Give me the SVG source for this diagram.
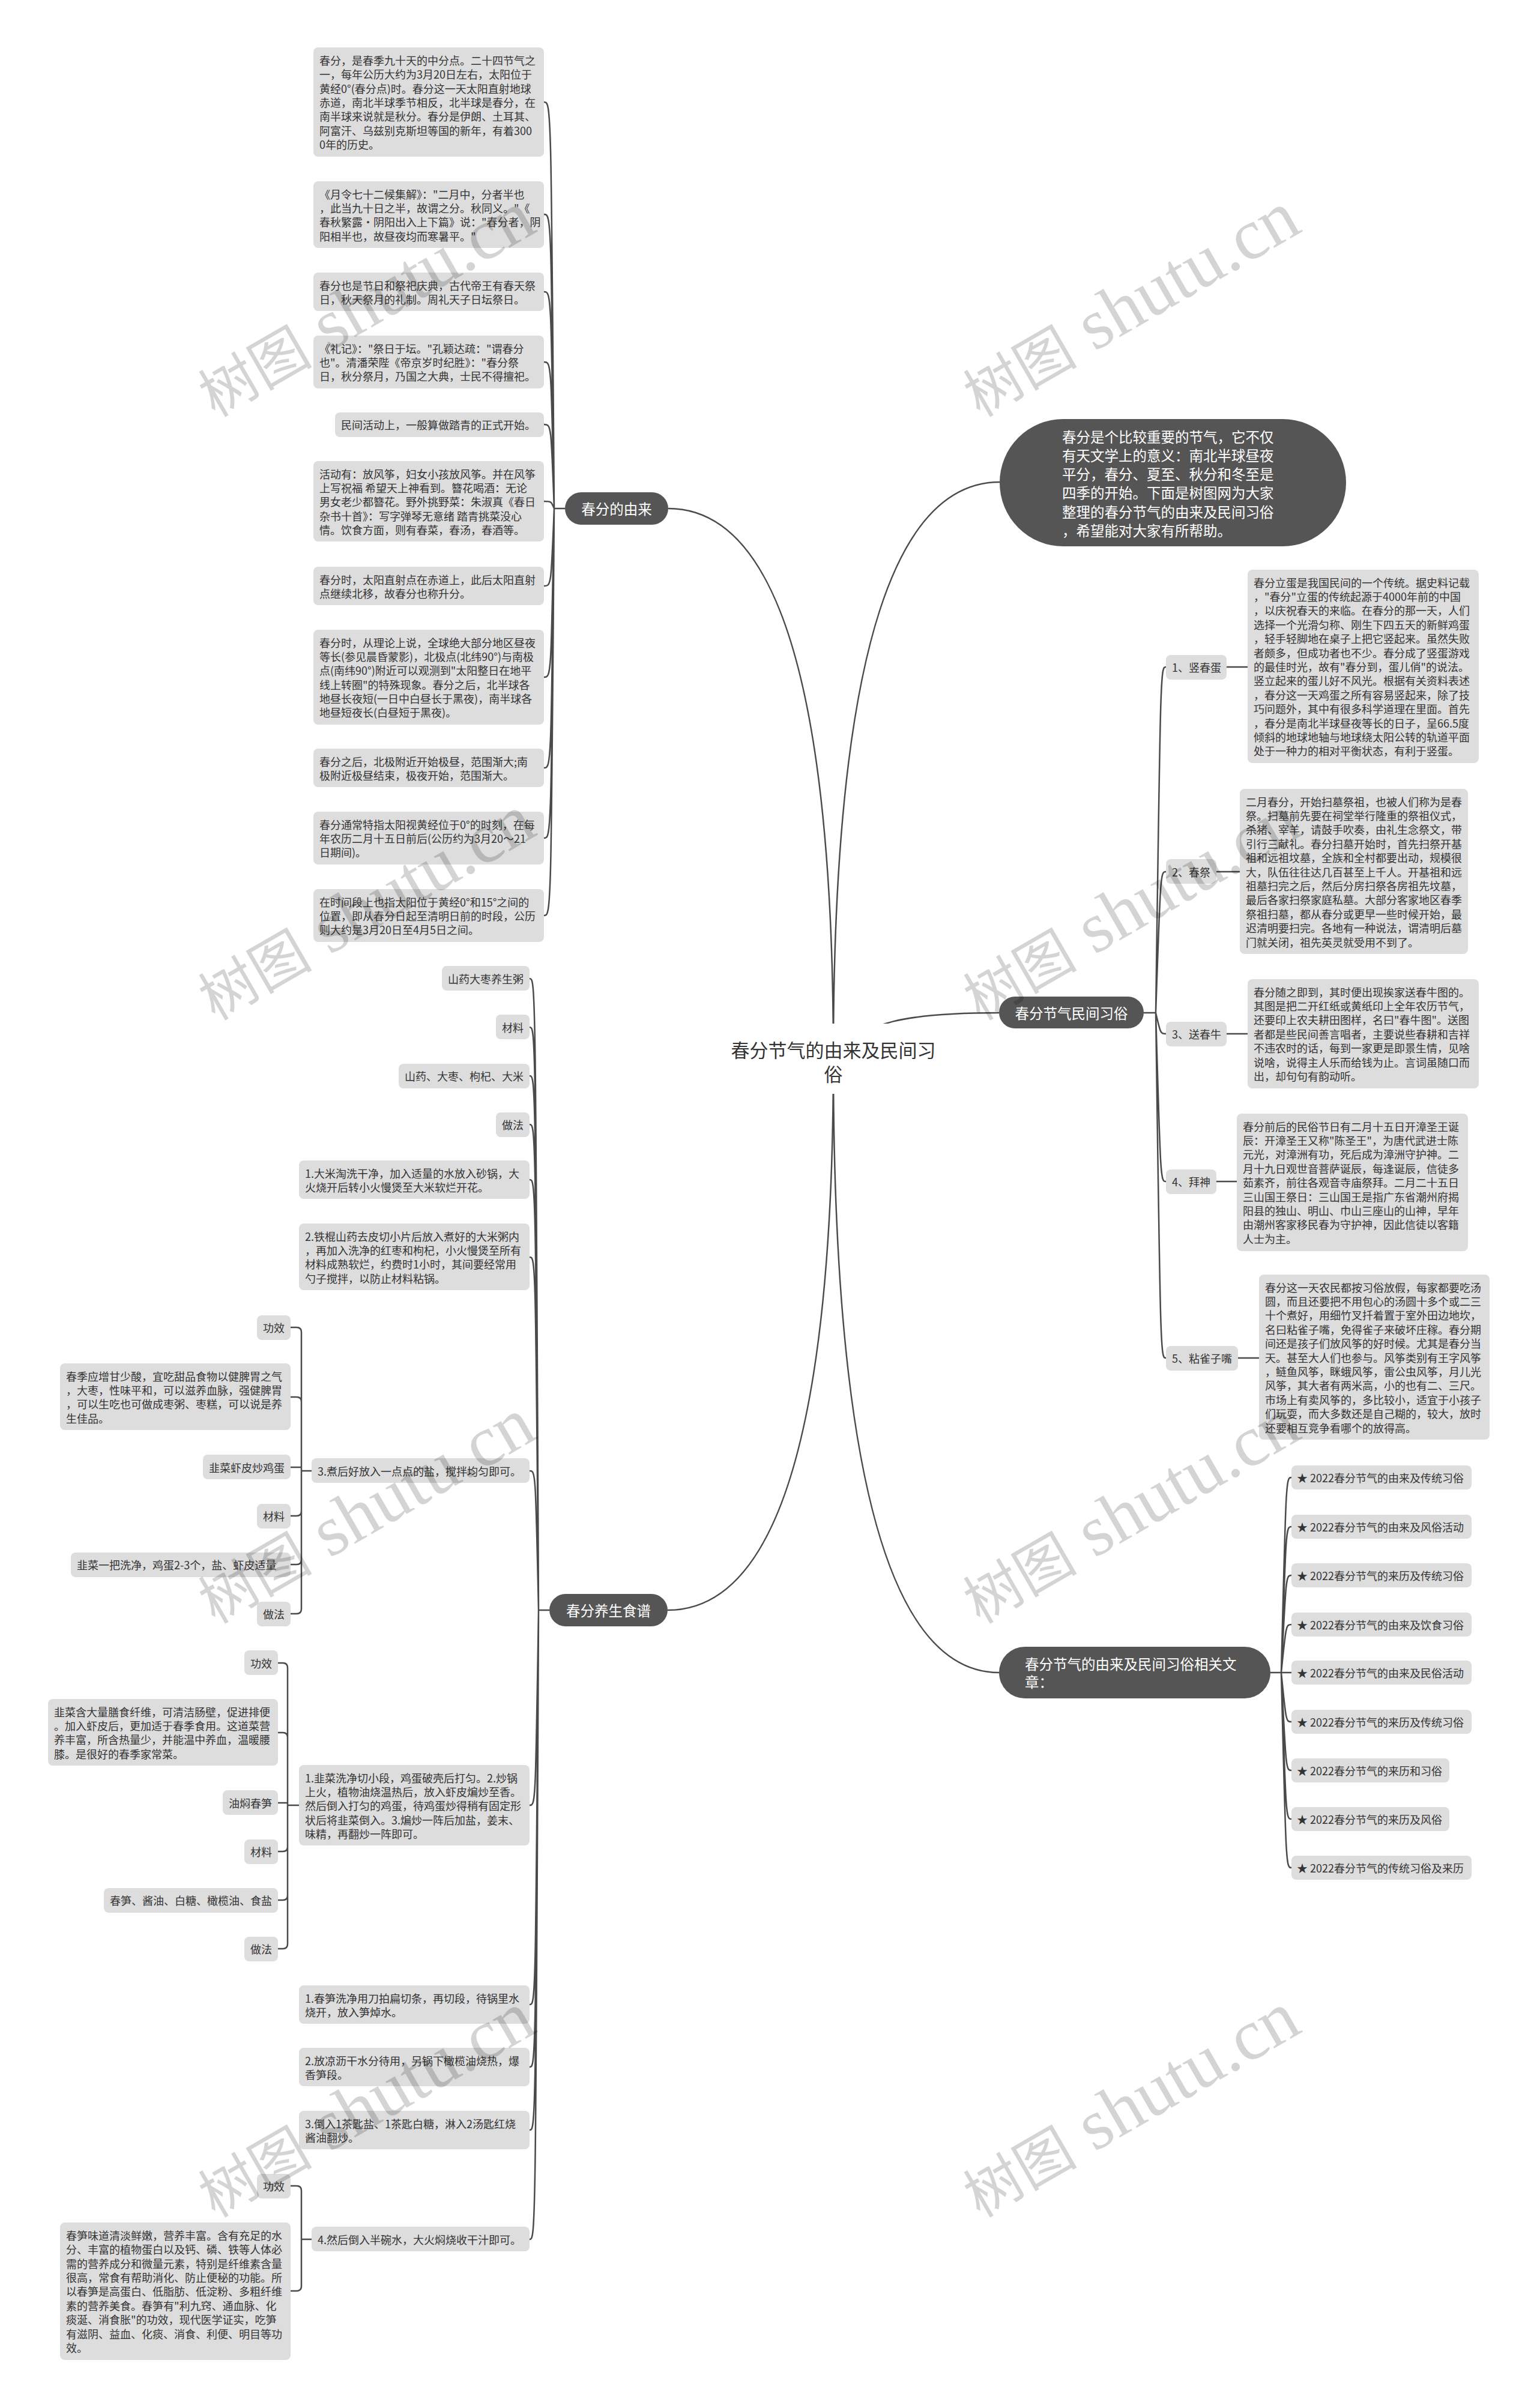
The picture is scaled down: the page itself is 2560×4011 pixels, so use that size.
<svg xmlns="http://www.w3.org/2000/svg" width="2560" height="4011" viewBox="0 0 2560 4011">
<style>
.b{fill:#dddddd}
.d{fill:#555555}
.t,.t tspan{font-family:"Noto Sans CJK SC","Liberation Sans",sans-serif;font-size:18px;fill:#333333;dominant-baseline:central}
.w,.w tspan{font-family:"Noto Sans CJK SC","Liberation Sans",sans-serif;font-size:23.5px;fill:#ffffff;dominant-baseline:central}
.m{text-anchor:middle}
.c{fill:none;stroke:#4a4a4a;stroke-width:2.5}
.wm{font-family:"Noto Sans CJK SC",sans-serif;font-size:95px;fill:#000000;fill-opacity:0.17}
.wm tspan.l{font-family:"Liberation Serif",serif;font-size:120px}
</style>
<rect width="2560" height="4011" fill="#ffffff"/>
<g id="connectors">
<path class="c" d="M1388,1763 Q1388,847 1113,847"/>
<path class="c" d="M1388,1763 Q1388,2682 1112,2682"/>
<path class="c" d="M1388,1763 Q1388,803 1665,803"/>
<path class="c" d="M1388,1763 Q1388,2786 1664,2786"/>
<path class="c" d="M1388,1763 C1430,1700 1520,1687 1664,1687"/>
<path class="c" d="M941,847 H923 M923,847 C918,170 918,170 906,170 M923,847 C918,357 918,357 906,357 M923,847 C918,486 918,486 906,486 M923,847 C918,603 918,603 906,603 M923,847 C918,707 918,707 906,707 M923,847 C918,835 918,835 906,835 M923,847 C918,976 918,976 906,976 M923,847 C918,1128 918,1128 906,1128 M923,847 C918,1279 918,1279 906,1279 M923,847 C918,1396 918,1396 906,1396 M923,847 C918,1525 918,1525 906,1525"/>
<path class="c" d="M915,2682 H897 M897,2682 C892,1630 892,1630 882,1630 M897,2682 C892,1711 892,1711 882,1711 M897,2682 C892,1792 892,1792 882,1792 M897,2682 C892,1873 892,1873 882,1873 M897,2682 C892,1965 892,1965 882,1965 M897,2682 C892,2094 892,2094 882,2094 M897,2682 C892,2450 892,2450 882,2450 M897,2682 C892,3007 892,3007 882,3007 M897,2682 C892,3339 892,3339 882,3339 M897,2682 C892,3443 892,3443 882,3443 M897,2682 C892,3548 892,3548 882,3548 M897,2682 C892,3730 892,3730 882,3730"/>
<path class="c" d="M1905,1687 H1925 M1925,1687 C1933,1111 1933,1111 1942,1111 M1925,1687 C1933,1452 1933,1452 1942,1452 M1925,1687 C1933,1722 1933,1722 1942,1722 M1925,1687 C1933,1968 1933,1968 1942,1968 M1925,1687 C1933,2262 1933,2262 1942,2262"/>
<path class="c" d="M2043,1111 H2078 M2026,1452 H2065 M2043,1722 H2078 M2026,1968 H2060 M2062,2262 H2097"/>
<path class="c" d="M2116,2786 H2134 M2134,2786 C2142,2461 2142,2461 2151,2461 M2134,2786 C2142,2543 2142,2543 2151,2543 M2134,2786 C2142,2624 2142,2624 2151,2624 M2134,2786 C2142,2706 2142,2706 2151,2706 M2134,2786 C2142,2786 2142,2786 2151,2786 M2134,2786 C2142,2868 2142,2868 2151,2868 M2134,2786 C2142,2949 2142,2949 2151,2949 M2134,2786 C2142,3030 2142,3030 2151,3030 M2134,2786 C2142,3111 2142,3111 2151,3111"/>
<path class="c" d="M519,2450 H502 M502,2450 V2219 Q502,2211 494,2211 H484 M502,2450 V2335 Q502,2327 494,2327 H484 M502,2444 H484 M502,2450 V2517 Q502,2525 494,2525 H484 M502,2450 V2598 Q502,2606 494,2606 H484 M502,2450 V2680 Q502,2688 494,2688 H484"/>
<path class="c" d="M498,3007 H479 M479,3007 V2778 Q479,2770 471,2770 H463 M479,3007 V2894 Q479,2886 471,2886 H463 M479,3003 H463 M479,3007 V3076 Q479,3084 471,3084 H463 M479,3007 V3157 Q479,3165 471,3165 H463 M479,3007 V3238 Q479,3246 471,3246 H463"/>
<path class="c" d="M519,3730 H502 M502,3730 V3649 Q502,3641 494,3641 H484 M502,3730 V3808 Q502,3816 494,3816 H484"/>
</g>
<g id="center">
<rect x="1216" y="1705" width="342" height="117" fill="#ffffff"/>
<text class="t m" style="font-size:31px" x="1388" y="1747">春分节气的由来及民间习</text>
<text class="t m" style="font-size:31px" x="1388" y="1787">俗</text>
</g>
<g id="intro">
<rect class="d" x="1665" y="698" width="577" height="212" rx="106"/>
<text class="w" x="1769"><tspan x="1769" y="727">春分是个比较重要的节气，它不仅</tspan><tspan x="1769" y="758">有天文学上的意义：南北半球昼夜</tspan><tspan x="1769" y="789">平分，春分、夏至、秋分和冬至是</tspan><tspan x="1769" y="820">四季的开始。下面是树图网为大家</tspan><tspan x="1769" y="852">整理的春分节气的由来及民间习俗</tspan><tspan x="1769" y="883">，希望能对大家有所帮助。</tspan></text>
</g>
<g id="branch-origin">
<rect class="d" x="941" y="820" width="172" height="54" rx="27"/>
<text class="w m" x="1027" y="847">春分的由来</text>
</g>
<g id="branch-customs">
<rect class="d" x="1664" y="1660" width="241" height="53" rx="26.5"/>
<text class="w m" x="1784.5" y="1687">春分节气民间习俗</text>
</g>
<g id="branch-food">
<rect class="d" x="915" y="2655" width="197" height="54" rx="27"/>
<text class="w m" x="1013.5" y="2682">春分养生食谱</text>
</g>
<g id="branch-articles">
<rect class="d" x="1664" y="2743" width="452" height="86" rx="43"/>
<text class="w" x="1707"><tspan x="1707" y="2771">春分节气的由来及民间习俗相关文</tspan><tspan x="1707" y="2801">章：</tspan></text>
</g>
<g id="origin-1"><rect class="b" x="522" y="79" width="384" height="182" rx="8"/>
<text class="t"><tspan x="532" y="100">春分，是春季九十天的中分点。二十四节气之</tspan><tspan x="532" y="123">一，每年公历大约为3月20日左右，太阳位于</tspan><tspan x="532" y="147">黄经0°(春分点)时。春分这一天太阳直射地球</tspan><tspan x="532" y="170">赤道，南北半球季节相反，北半球是春分，在</tspan><tspan x="532" y="193">南半球来说就是秋分。春分是伊朗、土耳其、</tspan><tspan x="532" y="217">阿富汗、乌兹别克斯坦等国的新年，有着300</tspan><tspan x="532" y="240">0年的历史。</tspan></text></g>
<g id="origin-2"><rect class="b" x="522" y="302" width="384" height="111" rx="8"/>
<text class="t"><tspan x="532" y="323">《月令七十二候集解》："二月中，分者半也</tspan><tspan x="532" y="346">，此当九十日之半，故谓之分。秋同义。"《</tspan><tspan x="532" y="369">春秋繁露·阴阳出入上下篇》说："春分者，阴</tspan><tspan x="532" y="393">阳相半也，故昼夜均而寒暑平。"</tspan></text></g>
<g id="origin-3"><rect class="b" x="522" y="454" width="384" height="64" rx="8"/>
<text class="t"><tspan x="532" y="475">春分也是节日和祭祀庆典，古代帝王有春天祭</tspan><tspan x="532" y="498">日，秋天祭月的礼制。周礼天子日坛祭日。</tspan></text></g>
<g id="origin-4"><rect class="b" x="522" y="559" width="384" height="88" rx="8"/>
<text class="t"><tspan x="532" y="580">《礼记》："祭日于坛。"孔颖达疏："谓春分</tspan><tspan x="532" y="603">也"。清潘荣陛《帝京岁时纪胜》："春分祭</tspan><tspan x="532" y="626">日，秋分祭月，乃国之大典，士民不得擅祀。</tspan></text></g>
<g id="origin-5"><rect class="b" x="558" y="687" width="348" height="41" rx="8"/>
<text class="t" x="568" y="707">民间活动上，一般算做踏青的正式开始。</text></g>
<g id="origin-6"><rect class="b" x="522" y="768" width="384" height="134" rx="8"/>
<text class="t"><tspan x="532" y="789">活动有：放风筝，妇女小孩放风筝。并在风筝</tspan><tspan x="532" y="812">上写祝福 希望天上神看到。簪花喝酒：无论</tspan><tspan x="532" y="835">男女老少都簪花。野外挑野菜：朱淑真《春日</tspan><tspan x="532" y="859">杂书十首》：写字弹琴无意绪 踏青挑菜没心</tspan><tspan x="532" y="882">情。饮食方面，则有春菜，春汤，春酒等。</tspan></text></g>
<g id="origin-7"><rect class="b" x="522" y="944" width="384" height="64" rx="8"/>
<text class="t"><tspan x="532" y="965">春分时，太阳直射点在赤道上，此后太阳直射</tspan><tspan x="532" y="988">点继续北移，故春分也称升分。</tspan></text></g>
<g id="origin-8"><rect class="b" x="522" y="1049" width="384" height="158" rx="8"/>
<text class="t"><tspan x="532" y="1070">春分时，从理论上说，全球绝大部分地区昼夜</tspan><tspan x="532" y="1093">等长(参见晨昏蒙影)，北极点(北纬90°)与南极</tspan><tspan x="532" y="1116">点(南纬90°)附近可以观测到"太阳整日在地平</tspan><tspan x="532" y="1140">线上转圈"的特殊现象。春分之后，北半球各</tspan><tspan x="532" y="1163">地昼长夜短(一日中白昼长于黑夜)，南半球各</tspan><tspan x="532" y="1186">地昼短夜长(白昼短于黑夜)。</tspan></text></g>
<g id="origin-9"><rect class="b" x="522" y="1247" width="384" height="64" rx="8"/>
<text class="t"><tspan x="532" y="1268">春分之后，北极附近开始极昼，范围渐大;南</tspan><tspan x="532" y="1291">极附近极昼结束，极夜开始，范围渐大。</tspan></text></g>
<g id="origin-10"><rect class="b" x="522" y="1352" width="384" height="88" rx="8"/>
<text class="t"><tspan x="532" y="1373">春分通常特指太阳视黄经位于0°的时刻，在每</tspan><tspan x="532" y="1396">年农历二月十五日前后(公历约为3月20～21</tspan><tspan x="532" y="1419">日期间)。</tspan></text></g>
<g id="origin-11"><rect class="b" x="522" y="1481" width="384" height="88" rx="8"/>
<text class="t"><tspan x="532" y="1502">在时间段上也指太阳位于黄经0°和15°之间的</tspan><tspan x="532" y="1525">位置，即从春分日起至清明日前的时段，公历</tspan><tspan x="532" y="1548">则大约是3月20日至4月5日之间。</tspan></text></g>
<g id="food-1"><rect class="b" x="736" y="1609" width="146" height="41" rx="8"/><text class="t" x="746" y="1630">山药大枣养生粥</text></g>
<g id="food-2"><rect class="b" x="826" y="1690" width="56" height="41" rx="8"/><text class="t" x="836" y="1711">材料</text></g>
<g id="food-3"><rect class="b" x="664" y="1772" width="218" height="41" rx="8"/><text class="t" x="674" y="1792">山药、大枣、枸杞、大米</text></g>
<g id="food-4"><rect class="b" x="826" y="1853" width="56" height="41" rx="8"/><text class="t" x="836" y="1873">做法</text></g>
<g id="food-5"><rect class="b" x="498" y="1933" width="384" height="64" rx="8"/>
<text class="t"><tspan x="508" y="1954">1.大米淘洗干净，加入适量的水放入砂锅，大</tspan><tspan x="508" y="1977">火烧开后转小火慢煲至大米软烂开花。</tspan></text></g>
<g id="food-6"><rect class="b" x="498" y="2038" width="384" height="111" rx="8"/>
<text class="t"><tspan x="508" y="2059">2.铁棍山药去皮切小片后放入煮好的大米粥内</tspan><tspan x="508" y="2082">，再加入洗净的红枣和枸杞，小火慢煲至所有</tspan><tspan x="508" y="2105">材料成熟软烂，约费时1小时，其间要经常用</tspan><tspan x="508" y="2129">勺子搅拌，以防止材料粘锅。</tspan></text></g>
<g id="food-7"><rect class="b" x="519" y="2429" width="363" height="41" rx="8"/><text class="t" x="529" y="2450">3.煮后好放入一点点的盐，搅拌均匀即可。</text></g>
<g id="food-7-1"><rect class="b" x="428" y="2191" width="56" height="41" rx="8"/><text class="t" x="438" y="2211">功效</text></g>
<g id="food-7-2"><rect class="b" x="100" y="2271" width="384" height="111" rx="8"/>
<text class="t"><tspan x="110" y="2292">春季应增甘少酸，宜吃甜品食物以健脾胃之气</tspan><tspan x="110" y="2315">，大枣，性味平和，可以滋养血脉，强健脾胃</tspan><tspan x="110" y="2338">，可以生吃也可做成枣粥、枣糕，可以说是养</tspan><tspan x="110" y="2362">生佳品。</tspan></text></g>
<g id="food-7-3"><rect class="b" x="338" y="2423" width="146" height="41" rx="8"/><text class="t" x="348" y="2444">韭菜虾皮炒鸡蛋</text></g>
<g id="food-7-4"><rect class="b" x="428" y="2505" width="56" height="41" rx="8"/><text class="t" x="438" y="2525">材料</text></g>
<g id="food-7-5"><rect class="b" x="118" y="2586" width="366" height="41" rx="8"/><text class="t" x="128" y="2606">韭菜一把洗净，鸡蛋2-3个，盐、虾皮适量</text></g>
<g id="food-7-6"><rect class="b" x="428" y="2668" width="56" height="41" rx="8"/><text class="t" x="438" y="2688">做法</text></g>
<g id="food-8"><rect class="b" x="498" y="2940" width="384" height="134" rx="8"/>
<text class="t"><tspan x="508" y="2961">1.韭菜洗净切小段，鸡蛋破壳后打匀。2.炒锅</tspan><tspan x="508" y="2984">上火，植物油烧温热后，放入虾皮煸炒至香。</tspan><tspan x="508" y="3007">然后倒入打匀的鸡蛋，待鸡蛋炒得稍有固定形</tspan><tspan x="508" y="3031">状后将韭菜倒入。3.煸炒一阵后加盐，姜末、</tspan><tspan x="508" y="3054">味精，再翻炒一阵即可。</tspan></text></g>
<g id="food-8-1"><rect class="b" x="407" y="2749" width="56" height="41" rx="8"/><text class="t" x="417" y="2770">功效</text></g>
<g id="food-8-2"><rect class="b" x="80" y="2830" width="383" height="111" rx="8"/>
<text class="t"><tspan x="90" y="2851">韭菜含大量膳食纤维，可清洁肠壁，促进排便</tspan><tspan x="90" y="2874">。加入虾皮后，更加适于春季食用。这道菜营</tspan><tspan x="90" y="2897">养丰富，所含热量少，并能温中养血，温暖腰</tspan><tspan x="90" y="2921">膝。是很好的春季家常菜。</tspan></text></g>
<g id="food-8-3"><rect class="b" x="371" y="2982" width="92" height="41" rx="8"/><text class="t" x="381" y="3003">油焖春笋</text></g>
<g id="food-8-4"><rect class="b" x="407" y="3064" width="56" height="41" rx="8"/><text class="t" x="417" y="3084">材料</text></g>
<g id="food-8-5"><rect class="b" x="173" y="3145" width="290" height="41" rx="8"/><text class="t" x="183" y="3165">春笋、酱油、白糖、橄榄油、食盐</text></g>
<g id="food-8-6"><rect class="b" x="407" y="3226" width="56" height="41" rx="8"/><text class="t" x="417" y="3246">做法</text></g>
<g id="food-9"><rect class="b" x="498" y="3307" width="384" height="64" rx="8"/>
<text class="t"><tspan x="508" y="3328">1.春笋洗净用刀拍扁切条，再切段，待锅里水</tspan><tspan x="508" y="3351">烧开，放入笋焯水。</tspan></text></g>
<g id="food-10"><rect class="b" x="498" y="3411" width="384" height="64" rx="8"/>
<text class="t"><tspan x="508" y="3432">2.放凉沥干水分待用，另锅下橄榄油烧热，爆</tspan><tspan x="508" y="3455">香笋段。</tspan></text></g>
<g id="food-11"><rect class="b" x="498" y="3516" width="384" height="64" rx="8"/>
<text class="t"><tspan x="508" y="3537">3.倒入1茶匙盐、1茶匙白糖，淋入2汤匙红烧</tspan><tspan x="508" y="3560">酱油翻炒。</tspan></text></g>
<g id="food-12"><rect class="b" x="519" y="3709" width="363" height="41" rx="8"/><text class="t" x="529" y="3730">4.然后倒入半碗水，大火焖烧收干汁即可。</text></g>
<g id="food-12-1"><rect class="b" x="428" y="3621" width="56" height="41" rx="8"/><text class="t" x="438" y="3641">功效</text></g>
<g id="food-12-2"><rect class="b" x="100" y="3702" width="384" height="229" rx="8"/>
<text class="t"><tspan x="110" y="3723">春笋味道清淡鲜嫩，营养丰富。含有充足的水</tspan><tspan x="110" y="3746">分、丰富的植物蛋白以及钙、磷、铁等人体必</tspan><tspan x="110" y="3770">需的营养成分和微量元素，特别是纤维素含量</tspan><tspan x="110" y="3793">很高，常食有帮助消化、防止便秘的功能。所</tspan><tspan x="110" y="3816">以春笋是高蛋白、低脂肪、低淀粉、多粗纤维</tspan><tspan x="110" y="3840">素的营养美食。春笋有"利九窍、通血脉、化</tspan><tspan x="110" y="3863">痰涎、消食胀"的功效，现代医学证实，吃笋</tspan><tspan x="110" y="3887">有滋阴、益血、化痰、消食、利便、明目等功</tspan><tspan x="110" y="3910">效。</tspan></text></g>
<g id="custom-1"><rect class="b" x="1942" y="1091" width="101" height="41" rx="8"/><text class="t" x="1952" y="1111">1、竖春蛋</text></g>
<g id="custom-1-text"><rect class="b" x="2078" y="949" width="385" height="322" rx="8"/>
<text class="t"><tspan x="2088" y="970">春分立蛋是我国民间的一个传统。据史料记载</tspan><tspan x="2088" y="993">，"春分"立蛋的传统起源于4000年前的中国</tspan><tspan x="2088" y="1016">，以庆祝春天的来临。在春分的那一天，人们</tspan><tspan x="2088" y="1040">选择一个光滑匀称、刚生下四五天的新鲜鸡蛋</tspan><tspan x="2088" y="1063">，轻手轻脚地在桌子上把它竖起来。虽然失败</tspan><tspan x="2088" y="1087">者颇多，但成功者也不少。春分成了竖蛋游戏</tspan><tspan x="2088" y="1110">的最佳时光，故有"春分到，蛋儿俏"的说法。</tspan><tspan x="2088" y="1133">竖立起来的蛋儿好不风光。根据有关资料表述</tspan><tspan x="2088" y="1157">，春分这一天鸡蛋之所有容易竖起来，除了技</tspan><tspan x="2088" y="1180">巧问题外，其中有很多科学道理在里面。首先</tspan><tspan x="2088" y="1204">，春分是南北半球昼夜等长的日子，呈66.5度</tspan><tspan x="2088" y="1227">倾斜的地球地轴与地球绕太阳公转的轨道平面</tspan><tspan x="2088" y="1250">处于一种力的相对平衡状态，有利于竖蛋。</tspan></text></g>
<g id="custom-2"><rect class="b" x="1942" y="1431" width="84" height="41" rx="8"/><text class="t" x="1952" y="1452">2、春祭</text></g>
<g id="custom-2-text"><rect class="b" x="2065" y="1314" width="380" height="275" rx="8"/>
<text class="t"><tspan x="2075" y="1335">二月春分，开始扫墓祭祖，也被人们称为是春</tspan><tspan x="2075" y="1358">祭。扫墓前先要在祠堂举行隆重的祭祖仪式，</tspan><tspan x="2075" y="1381">杀猪、宰羊，请鼓手吹奏，由礼生念祭文，带</tspan><tspan x="2075" y="1405">引行三献礼。春分扫墓开始时，首先扫祭开基</tspan><tspan x="2075" y="1428">祖和远祖坟墓，全族和全村都要出动，规模很</tspan><tspan x="2075" y="1452">大，队伍往往达几百甚至上千人。开基祖和远</tspan><tspan x="2075" y="1475">祖墓扫完之后，然后分房扫祭各房祖先坟墓，</tspan><tspan x="2075" y="1498">最后各家扫祭家庭私墓。大部分客家地区春季</tspan><tspan x="2075" y="1522">祭祖扫墓，都从春分或更早一些时候开始，最</tspan><tspan x="2075" y="1545">迟清明要扫完。各地有一种说法，谓清明后墓</tspan><tspan x="2075" y="1569">门就关闭，祖先英灵就受用不到了。</tspan></text></g>
<g id="custom-3"><rect class="b" x="1942" y="1702" width="101" height="41" rx="8"/><text class="t" x="1952" y="1722">3、送春牛</text></g>
<g id="custom-3-text"><rect class="b" x="2078" y="1631" width="385" height="182" rx="8"/>
<text class="t"><tspan x="2088" y="1652">春分随之即到，其时便出现挨家送春牛图的。</tspan><tspan x="2088" y="1675">其图是把二开红纸或黄纸印上全年农历节气，</tspan><tspan x="2088" y="1698">还要印上农夫耕田图样，名曰"春牛图"。送图</tspan><tspan x="2088" y="1722">者都是些民间善言唱者，主要说些春耕和吉祥</tspan><tspan x="2088" y="1745">不违农时的话，每到一家更是即景生情，见啥</tspan><tspan x="2088" y="1769">说啥，说得主人乐而给钱为止。言词虽随口而</tspan><tspan x="2088" y="1792">出，却句句有韵动听。</tspan></text></g>
<g id="custom-4"><rect class="b" x="1942" y="1948" width="84" height="41" rx="8"/><text class="t" x="1952" y="1968">4、拜神</text></g>
<g id="custom-4-text"><rect class="b" x="2060" y="1855" width="385" height="229" rx="8"/>
<text class="t"><tspan x="2070" y="1876">春分前后的民俗节日有二月十五日开漳圣王诞</tspan><tspan x="2070" y="1899">辰：开漳圣王又称"陈圣王"，为唐代武进士陈</tspan><tspan x="2070" y="1922">元光，对漳洲有功，死后成为漳洲守护神。二</tspan><tspan x="2070" y="1946">月十九日观世音菩萨诞辰，每逢诞辰，信徒多</tspan><tspan x="2070" y="1969">茹素齐，前往各观音寺庙祭拜。二月二十五日</tspan><tspan x="2070" y="1993">三山国王祭日：三山国王是指广东省潮州府揭</tspan><tspan x="2070" y="2016">阳县的独山、明山、巾山三座山的山神，早年</tspan><tspan x="2070" y="2039">由潮州客家移民春为守护神，因此信徒以客籍</tspan><tspan x="2070" y="2063">人士为主。</tspan></text></g>
<g id="custom-5"><rect class="b" x="1942" y="2242" width="120" height="41" rx="8"/><text class="t" x="1952" y="2262">5、粘雀子嘴</text></g>
<g id="custom-5-text"><rect class="b" x="2097" y="2123" width="384" height="275" rx="8"/>
<text class="t"><tspan x="2107" y="2144">春分这一天农民都按习俗放假，每家都要吃汤</tspan><tspan x="2107" y="2167">圆，而且还要把不用包心的汤圆十多个或二三</tspan><tspan x="2107" y="2190">十个煮好，用细竹叉扦着置于室外田边地坎，</tspan><tspan x="2107" y="2214">名曰粘雀子嘴，免得雀子来破坏庄稼。春分期</tspan><tspan x="2107" y="2237">间还是孩子们放风筝的好时候。尤其是春分当</tspan><tspan x="2107" y="2261">天。甚至大人们也参与。风筝类别有王字风筝</tspan><tspan x="2107" y="2284">，鲢鱼风筝，眯蛾风筝，雷公虫风筝，月儿光</tspan><tspan x="2107" y="2307">风筝，其大者有两米高，小的也有二、三尺。</tspan><tspan x="2107" y="2331">市场上有卖风筝的，多比较小，适宜于小孩子</tspan><tspan x="2107" y="2354">们玩耍，而大多数还是自己糊的，较大，放时</tspan><tspan x="2107" y="2378">还要相互竞争看哪个的放得高。</tspan></text></g>
<g id="article-1"><rect class="b" x="2151" y="2441" width="300" height="40" rx="8"/><text class="t" x="2160" y="2461">★ 2022春分节气的由来及传统习俗</text></g>
<g id="article-2"><rect class="b" x="2151" y="2523" width="300" height="40" rx="8"/><text class="t" x="2160" y="2543">★ 2022春分节气的由来及风俗活动</text></g>
<g id="article-3"><rect class="b" x="2151" y="2604" width="300" height="40" rx="8"/><text class="t" x="2160" y="2624">★ 2022春分节气的来历及传统习俗</text></g>
<g id="article-4"><rect class="b" x="2151" y="2686" width="300" height="40" rx="8"/><text class="t" x="2160" y="2706">★ 2022春分节气的由来及饮食习俗</text></g>
<g id="article-5"><rect class="b" x="2151" y="2766" width="300" height="40" rx="8"/><text class="t" x="2160" y="2786">★ 2022春分节气的由来及民俗活动</text></g>
<g id="article-6"><rect class="b" x="2151" y="2848" width="300" height="40" rx="8"/><text class="t" x="2160" y="2868">★ 2022春分节气的来历及传统习俗</text></g>
<g id="article-7"><rect class="b" x="2151" y="2929" width="263" height="40" rx="8"/><text class="t" x="2160" y="2949">★ 2022春分节气的来历和习俗</text></g>
<g id="article-8"><rect class="b" x="2151" y="3010" width="263" height="40" rx="8"/><text class="t" x="2160" y="3030">★ 2022春分节气的来历及风俗</text></g>
<g id="article-9"><rect class="b" x="2151" y="3091" width="300" height="40" rx="8"/><text class="t" x="2160" y="3111">★ 2022春分节气的传统习俗及来历</text></g>
<g id="watermarks">
<text class="wm" transform="translate(358,696) rotate(-30)">树图<tspan class="l"> shutu.cn</tspan></text>
<text class="wm" transform="translate(1632,696) rotate(-30)">树图<tspan class="l"> shutu.cn</tspan></text>
<text class="wm" transform="translate(358,1701) rotate(-30)">树图<tspan class="l"> shutu.cn</tspan></text>
<text class="wm" transform="translate(1632,1701) rotate(-30)">树图<tspan class="l"> shutu.cn</tspan></text>
<text class="wm" transform="translate(358,2706) rotate(-30)">树图<tspan class="l"> shutu.cn</tspan></text>
<text class="wm" transform="translate(1632,2706) rotate(-30)">树图<tspan class="l"> shutu.cn</tspan></text>
<text class="wm" transform="translate(358,3695) rotate(-30)">树图<tspan class="l"> shutu.cn</tspan></text>
<text class="wm" transform="translate(1632,3695) rotate(-30)">树图<tspan class="l"> shutu.cn</tspan></text>
</g>
</svg>
